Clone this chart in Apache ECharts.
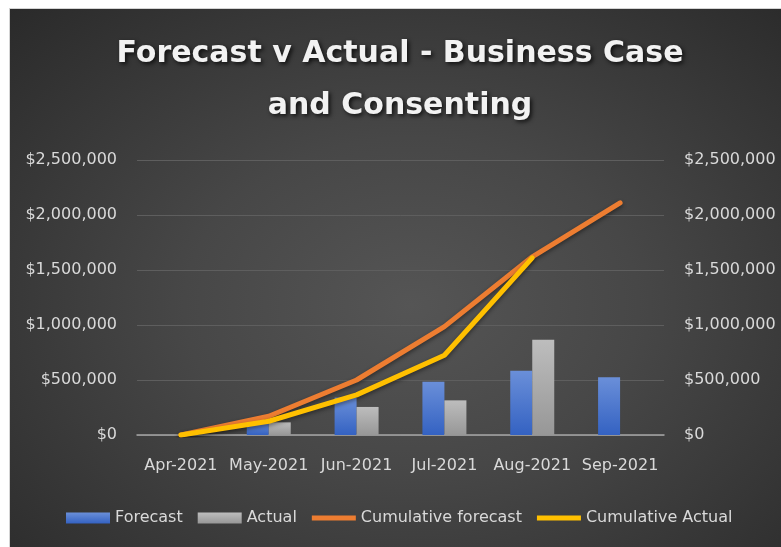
<!DOCTYPE html>
<html>
<head>
<meta charset="utf-8">
<script src="https://cdn.jsdelivr.net/npm/echarts@6/dist/echarts.min.js"></script>
<style>
  html, body { margin: 0; padding: 0; background: #ffffff; }
  #frame {
    position: absolute; left: 9px; top: 8px; width: 772px; height: 539px;
    border-top: 1px solid #d4d4d4; border-left: 1px solid #d4d4d4;
    background: radial-gradient(ellipse at 52% 55%, #555555 0%, #474747 40%, #2a2a2a 100%);
  }
  #chart { width: 771px; height: 538px; }
</style>
</head>
<body>
<div id="frame"><div id="chart"></div></div>
<script>
// Monthly spend, business case and consenting
const categories = ['Apr-2021', 'May-2021', 'Jun-2021', 'Jul-2021', 'Aug-2021', 'Sep-2021'];
const forecast = [0, 110000, 340000, 485000, 585000, 525000];
const actual = [0, 115000, 255000, 315000, 867000, null];
const cumulativeForecast = [0, 170000, 500000, 985000, 1620000, 2110000];
const cumulativeActual = [0, 125000, 365000, 725000, 1610000, null];
const axisTicks = [0, 500000, 1000000, 1500000, 2000000, 2500000];

const FONT = 'DejaVu Sans';
const money = v => '$' + Number(v).toLocaleString('en-US');
// thin bar used as the legend swatch of the line series
const LINE_ICON = 'path://M0,0 L46,0 L46,5 L0,5 Z';

function barGradient(top, bottom) {
  return new echarts.graphic.LinearGradient(0, 0, 0, 1, [
    { offset: 0, color: top },
    { offset: 1, color: bottom }
  ]);
}

const yAxisBase = {
  type: 'value',
  min: axisTicks[0],
  max: axisTicks[axisTicks.length - 1],
  interval: axisTicks[1] - axisTicks[0],
  axisLine: { show: false },
  axisTick: { show: false },
  axisLabel: { color: '#d9d9d9', fontFamily: FONT, fontSize: 16, margin: 20, formatter: money }
};

const chart = echarts.init(document.getElementById('chart'), null, { renderer: 'canvas' });
chart.setOption({
  backgroundColor: 'transparent',
  animation: false,
  title: {
    text: 'Forecast v Actual - Business Case\nand Consenting',
    left: 390,
    top: 19,
    textAlign: 'center',
    padding: 0,
    textStyle: {
      color: '#f2f2f2',
      fontFamily: FONT,
      fontWeight: 'bold',
      fontSize: 30,
      lineHeight: 52,
      textShadowColor: 'rgba(0,0,0,0.75)',
      textShadowBlur: 4,
      textShadowOffsetX: 2,
      textShadowOffsetY: 2
    }
  },
  legend: {
    left: 56,
    top: 501,
    padding: 0,
    itemWidth: 44,
    itemHeight: 11,
    itemGap: 15,
    symbolKeepAspect: true,
    textStyle: { color: '#d9d9d9', fontFamily: FONT, fontSize: 16 },
    data: [
      { name: 'Forecast', icon: 'rect' },
      { name: 'Actual', icon: 'rect' },
      { name: 'Cumulative forecast', icon: LINE_ICON },
      { name: 'Cumulative Actual', icon: LINE_ICON }
    ]
  },
  grid: { left: 127, right: 117, top: 151, bottom: 112 },
  xAxis: {
    type: 'category',
    data: categories,
    axisTick: { show: false },
    axisLine: { lineStyle: { color: '#a6a6a6', width: 1.5 } },
    axisLabel: { color: '#d9d9d9', fontFamily: FONT, fontSize: 16, margin: 23, interval: 0 }
  },
  yAxis: [
    Object.assign({}, yAxisBase, {
      position: 'left',
      splitLine: { lineStyle: { color: '#5e5e5e', width: 1 } }
    }),
    Object.assign({}, yAxisBase, {
      position: 'right',
      splitLine: { show: false }
    })
  ],
  series: [
    {
      name: 'Forecast',
      type: 'bar',
      data: forecast,
      barWidth: 22,
      barGap: '0%',
      itemStyle: { color: barGradient('#6a8fd9', '#3462c2') }
    },
    {
      name: 'Actual',
      type: 'bar',
      data: actual,
      barWidth: 22,
      barGap: '0%',
      itemStyle: { color: barGradient('#bdbdbd', '#979797') }
    },
    {
      name: 'Cumulative forecast',
      type: 'line',
      yAxisIndex: 1,
      data: cumulativeForecast,
      symbol: 'none',
      z: 3,
      lineStyle: {
        color: '#ed7d31', width: 5, cap: 'round', join: 'round',
        shadowColor: 'rgba(0,0,0,0.45)', shadowBlur: 4, shadowOffsetY: 2
      },
      itemStyle: { color: '#ed7d31' }
    },
    {
      name: 'Cumulative Actual',
      type: 'line',
      yAxisIndex: 1,
      data: cumulativeActual,
      symbol: 'none',
      z: 4,
      lineStyle: {
        color: '#ffc000', width: 5, cap: 'round', join: 'round',
        shadowColor: 'rgba(0,0,0,0.45)', shadowBlur: 4, shadowOffsetY: 2
      },
      itemStyle: { color: '#ffc000' }
    }
  ]
});
</script>
</body>
</html>
